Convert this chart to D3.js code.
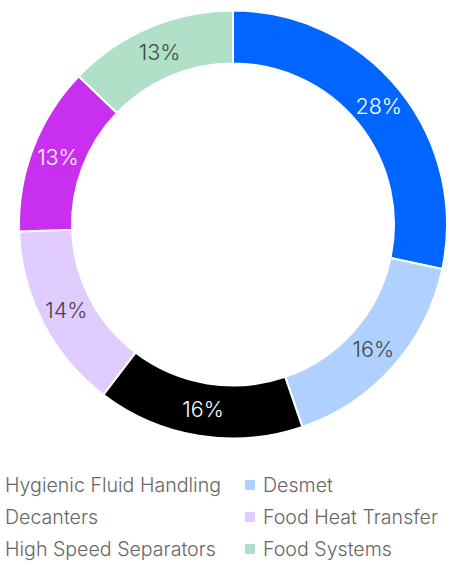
<!DOCTYPE html>
<html>
<head>
<meta charset="utf-8">
<script src="https://cdn.jsdelivr.net/npm/d3@7"></script>
<style>
  body { margin: 0; background: #fff; }
  svg { display: block; font-family: Inter, "Open Sans", sans-serif; font-weight: 300; }
</style>
</head>
<body>
<svg width="454" height="561"></svg>
<script>
// segments, clockwise from 12 o'clock
var names = ["Hygienic Fluid Handling", "Desmet", "Decanters", "Food Heat Transfer", "High Speed Separators", "Food Systems"];
var shares = [28.3, 16.4, 15.6, 14.1, 12.7, 12.8];
var colors = ["#0066ff", "#b0d0ff", "#000000", "#e0ccff", "#c92fee", "#b0e0c8"];
var labelColors = ["#ffffff", "#444444", "#ffffff", "#444444", "#ffffff", "#444444"];

var svg = d3.select("svg");
var cx = 233, cy = 224.5;
var outer = 214, inner = 161;

var pie = d3.pie().sort(null).value(d => d);
var arc = d3.arc().innerRadius(inner).outerRadius(outer);
var arcs = pie(shares);

var g = svg.append("g").attr("transform", "translate(" + cx + "," + cy + ")");

g.selectAll("path")
    .data(arcs)
    .enter().append("path")
    .attr("d", arc)
    .attr("fill", (d, i) => colors[i])
    .attr("stroke", "#fff")
    .attr("stroke-width", 2);

g.selectAll("text")
    .data(arcs)
    .enter().append("text")
    .attr("transform", d => "translate(" + arc.centroid(d) + ")")
    .attr("dy", "0.36em")
    .attr("text-anchor", "middle")
    .attr("font-size", 21.5)
    .attr("fill", (d, i) => labelColors[i])
    .text(d => Math.round(d.data) + "%");

// legend: two columns, left column markers sit off the left edge
var legend = svg.append("g");
var rowY = [485, 517, 549];
var colX = [-12, 245];

var item = legend.selectAll("g")
    .data(names)
    .enter().append("g")
    .attr("transform", (d, i) => "translate(" + colX[i % 2] + "," + rowY[Math.floor(i / 2)] + ")");

item.append("rect")
    .attr("x", 0)
    .attr("y", -5)
    .attr("width", 10)
    .attr("height", 10)
    .attr("fill", (d, i) => colors[i]);

item.append("text")
    .attr("x", (d, i) => i % 2 === 0 ? 17 : 18)
    .attr("dy", "0.36em")
    .attr("font-size", 19.6)
    .attr("fill", "#666")
    .text(d => d);
</script>
</body>
</html>
